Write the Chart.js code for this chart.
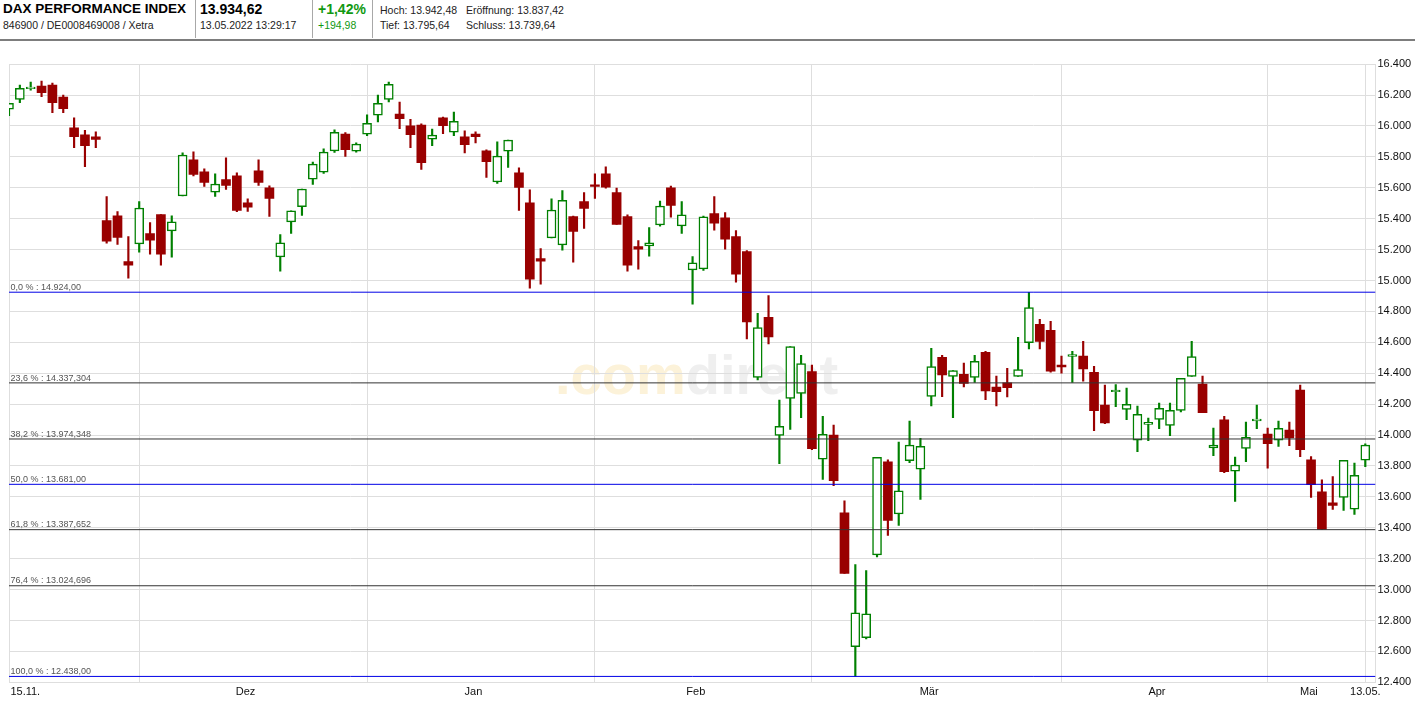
<!DOCTYPE html>
<html><head><meta charset="utf-8">
<script src="https://cdn.jsdelivr.net/npm/chart.js@4"></script>
<style>
html,body{margin:0;padding:0;background:#fff;}
body{width:1415px;height:701px;position:relative;overflow:hidden;font-family:"Liberation Sans",Arial,sans-serif;}
.t{position:absolute;line-height:1;white-space:nowrap;color:#000;}
.s{font-size:10.5px;color:#222;}
.g{color:#119911;}
.sep{position:absolute;top:0;width:1px;height:38px;background:#a8a8a8;}
#hdrline{position:absolute;left:0;top:39px;width:1415px;height:2px;background:#7d7d7d;}
#wm{position:absolute;left:555px;top:347px;font:bold 56px "Liberation Sans",Arial,sans-serif;line-height:56px;white-space:nowrap;}
#wrap{position:absolute;left:0;top:42px;width:1415px;height:659px;}
canvas{display:block;}
</style></head>
<body>
<div class="t" style="left:3px;top:2px;font-weight:bold;font-size:13.5px">DAX PERFORMANCE INDEX</div>
<div class="t s" style="left:3px;top:19.8px">846900 / DE0008469008 / Xetra</div>
<div class="sep" style="left:195px"></div>
<div class="t" style="left:200px;top:1.5px;font-weight:bold;font-size:14px">13.934,62</div>
<div class="t s" style="left:200px;top:19.8px">13.05.2022 13:29:17</div>
<div class="sep" style="left:312px"></div>
<div class="t g" style="left:318px;top:1.5px;font-weight:bold;font-size:14px">+1,42%</div>
<div class="t s g" style="left:318px;top:19.8px">+194,98</div>
<div class="sep" style="left:372px"></div>
<div class="t s" style="left:380px;top:4.6px">Hoch: 13.942,48</div>
<div class="t s" style="left:466px;top:4.6px">Eröffnung: 13.837,42</div>
<div class="t s" style="left:380px;top:19.8px">Tief: 13.795,64</div>
<div class="t s" style="left:466px;top:19.8px">Schluss: 13.739,64</div>
<div id="hdrline"></div>
<div id="wm"><span style="color:#fcf2d9">.com</span><span style="color:#efefef">direct</span></div>
<div id="wrap"><canvas id="c" width="1415" height="659"></canvas></div>
<script>
// ---- data ----
const firstDay = '2021-11-15';
const lastDay = '2022-05-13';
const holidays = ['2021-12-24','2021-12-31','2022-04-15','2022-04-18'];
const monthNames = ['Jan','Feb','Mär','Apr','Mai','Jun','Jul','Aug','Sep','Okt','Nov','Dez'];

const open = [16108,16172,16241,16258,16265,16187,15987,15942,15929,15387,15419,15123,15237,15303,15426,15321,15547,15781,15703,15572,15652,15677,15503,15710,15600,15153,15379,15477,15656,15701,15839,15948,15837,15946,16069,16172,16077,16000,16006,15914,16052,15959,15929,15948,15839,15637,15837,15697,15503,15142,15276,15230,15413,15510,15619,15690,15568,15413,15219,15224,15359,15600,15353,15069,15075,15432,15406,15284,15187,14372,14761,13998,14237,14269,14411,13843,14000,13497,12630,12688,13224,13826,13489,13834,13779,14250,14503,14379,14392,14372,14535,14310,14338,14379,14598,14716,14677,14452,14508,14510,14406,14194,14280,14166,13966,14069,14101,14062,14159,14379,14329,13916,14099,13766,13914,14092,14006,13966,14032,14290,13839,13632,13561,13596,13520,13837.42];
const high = [16146,16265,16284,16290,16277,16200,16052,15972,15961,15542,15445,15284,15510,15374,15426,15419,15826,15832,15723,15690,15794,15697,15529,15781,15613,15297,15450,15592,15766,15852,15974,15957,15890,16071,16200,16284,16155,16043,16013,15979,16058,16090,15968,15961,15845,15897,15908,15729,15587,15206,15529,15581,15417,15568,15690,15735,15598,15424,15258,15342,15514,15611,15510,15155,15417,15542,15439,15323,15194,14787,14903,14226,14572,14516,14452,14121,14065,13574,13161,13123,13856,13839,13955,14090,13979,14561,14516,14417,14465,14516,14542,14381,14432,14632,14924,14748,14735,14510,14542,14606,14445,14323,14327,14303,14187,14110,14206,14206,14366,14606,14381,14045,14121,13858,14084,14194,14045,14090,14084,14323,13860,13710,13731,13837,13819,13942.48];
const low = [16067,16150,16232,16189,16086,16086,15860,15737,15860,15241,15234,15015,15183,15170,15099,15150,15547,15677,15608,15544,15589,15445,15447,15615,15415,15060,15305,15421,15622,15692,15828,15802,15830,15937,16026,16155,15983,15860,15718,15873,15950,15937,15826,15890,15667,15628,15731,15454,14950,14976,15276,15196,15118,15337,15531,15598,15363,15060,15073,15157,15351,15409,15305,14847,15065,15325,15202,14989,14622,14357,14589,13815,14037,14112,13905,13712,13673,13105,12438,12680,13211,13350,13415,13821,13583,14189,14248,14112,14312,14340,14228,14189,14247,14379,14557,14557,14406,14400,14340,14348,14028,14073,14183,14099,13892,13963,14041,13996,14150,14379,14144,13866,13757,13570,13828,14041,13785,13927,13931,13860,13596,13389,13518,13512,13486,13795.64];
const close = [16146,16243,16252,16215,16150,16112,15931,15873,15912,15254,15279,15099,15469,15260,15170,15379,15811,15686,15634,15624,15615,15454,15474,15634,15531,15243,15450,15592,15753,15830,15959,15847,15882,16017,16146,16269,16047,15944,15763,15940,16002,16030,15879,15931,15768,15805,15908,15602,15009,15125,15456,15519,15318,15467,15608,15603,15363,15099,15202,15243,15482,15486,15424,15114,15411,15370,15267,15041,14731,14695,14634,14056,14572,14463,13912,14005,13705,13105,12849,12843,13856,13447,13639,13935,13927,14443,14389,14417,14334,14476,14286,14280,14306,14424,14824,14606,14413,14441,14521,14428,14157,14079,14290,14198,14134,14082,14172,14159,14366,14508,14144,13935,13763,13806,13985,14103,13944,14043,13981,13905,13679,13389,13544,13837,13739.64,13934.62];

const fibLevels = [14924, 14337.304, 13974.348, 13681, 13387.652, 13024.696, 12438];
const fibLabels = ['0,0 % : 14.924,00','23,6 % : 14.337,304','38,2 % : 13.974,348','50,0 % : 13.681,00','61,8 % : 13.387,652','76,4 % : 13.024,696','100,0 % : 12.438,00'];
const fibMain = [true,false,false,true,false,false,true];

// ---- trading days (categories) ----
const dates = [];
(function(){
  let d = new Date(firstDay + 'T00:00:00Z');
  const end = new Date(lastDay + 'T00:00:00Z');
  while (d <= end) {
    const wd = d.getUTCDay();
    const iso = d.toISOString().slice(0,10);
    if (wd !== 0 && wd !== 6 && holidays.indexOf(iso) < 0) dates.push(iso);
    d = new Date(d.getTime() + 86400000);
  }
})();
const N = dates.length;
const idx = dates.map((_, i) => i);
const up = idx.map(i => close[i] >= open[i]);

const UP = '#008000', DOWN = '#990000', GRID = '#dedede';
const FONT = '"Liberation Sans", Arial, sans-serif';
Chart.defaults.font.family = FONT;

// month starts for grid lines, month mid for labels
const monthStarts = idx.filter(i => i > 0 && dates[i].slice(5,7) !== dates[i-1].slice(5,7));
const xMax = N - 1 + 0.94;
const tickMap = new Map();
function addTick(v, props){ const k = Math.round(v*1000)/1000; const t = tickMap.get(k) || {value:k}; Object.assign(t, props); tickMap.set(k, t); }
[0, ...monthStarts, N - 1].forEach(v => addTick(v, {grid:true}));
const fmtDay = s => s.slice(8,10) + '.' + s.slice(5,7) + '.';
addTick(1.5, {txt: fmtDay(dates[0])});
monthStarts.forEach((s, k) => {
  const e = k + 1 < monthStarts.length ? monthStarts[k+1] : N - 1;
  addTick((s + e) / 2 - 0.7, {txt: monthNames[parseInt(dates[s].slice(5,7),10) - 1]});
});
addTick(N - 1, {txt: fmtDay(dates[N-1])});
const xTicks = Array.from(tickMap.values()).sort((a,b) => a.value - b.value);

const fmtThousands = v => String(Math.round(v)).replace(/\B(?=(\d{3})+(?!\d))/g, '.');

const fibPlugin = {
  id: 'fibLabels',
  afterDatasetsDraw(chart) {
    const {ctx, chartArea, scales} = chart;
    ctx.save();
    ctx.font = '9px ' + FONT;
    ctx.fillStyle = '#555';
    ctx.textBaseline = 'alphabetic';
    fibLevels.forEach((v, k) => {
      const py = scales.y.getPixelForValue(v);
      ctx.fillText(fibLabels[k], chartArea.left + 1.5, py - 2.3);
    });
    ctx.restore();
  }
};

const datasets = [
  {
    type: 'bar', label: 'body', order: 1, grouped: false,
    data: idx.map(i => ({x: i, y: [open[i], close[i]]})),
    backgroundColor: idx.map(i => up[i] ? '#ffffff' : DOWN),
    borderColor: idx.map(i => up[i] ? UP : DOWN),
    borderWidth: idx.map(i => up[i] ? 1.5 : 0),
    borderSkipped: false, barThickness: 9, minBarLength: 1.5
  },
  {
    type: 'bar', label: 'wick', order: 2, grouped: false,
    data: idx.map(i => ({x: i, y: [low[i], high[i]]})),
    backgroundColor: idx.map(i => up[i] ? UP : DOWN),
    borderWidth: 0, barThickness: 1.5
  }
];
fibLevels.forEach((v, k) => {
  datasets.push({
    type: 'line', label: fibLabels[k], order: 0,
    data: [{x: 0, y: v}, {x: xMax, y: v}],
    borderColor: fibMain[k] ? '#0000e6' : '#333333',
    borderWidth: 1, pointRadius: 0, fill: false, tension: 0
  });
});

new Chart(document.getElementById('c'), {
  type: 'bar',
  data: { datasets },
  plugins: [fibPlugin],
  options: {
    responsive: false, animation: false,
    layout: { padding: { left: 9, top: 22.1, right: 0, bottom: 0 } },
    plugins: { legend: { display: false }, tooltip: { enabled: false } },
    scales: {
      x: {
        type: 'linear', min: 0, max: xMax, offset: false,
        afterBuildTicks(s) { s.ticks = xTicks.map(t => Object.assign({}, t)); },
        afterFit(s) { s.height = 18.7; },
        grid: { offset: false, drawTicks: false, lineWidth: 1,
          color: ctx => (ctx.tick && ctx.tick.grid) ? GRID : 'rgba(0,0,0,0)' },
        border: { display: true, color: GRID },
        ticks: { autoSkip: false, maxRotation: 0, minRotation: 0, padding: 3.5, color: '#111',
          font: { size: 11 }, callback: (v, i, ts) => ts[i].txt || '' }
      },
      y: {
        type: 'linear', position: 'right', min: 12400, max: 16400, beginAtZero: false,
        afterFit(s) { s.width = 39.5; },
        grid: { color: GRID, drawTicks: false, lineWidth: 1 },
        border: { display: true, color: GRID },
        ticks: { stepSize: 200, padding: 2, color: '#111', font: { size: 11 },
          callback: v => fmtThousands(v) }
      }
    }
  }
});
</script>
</body></html>
